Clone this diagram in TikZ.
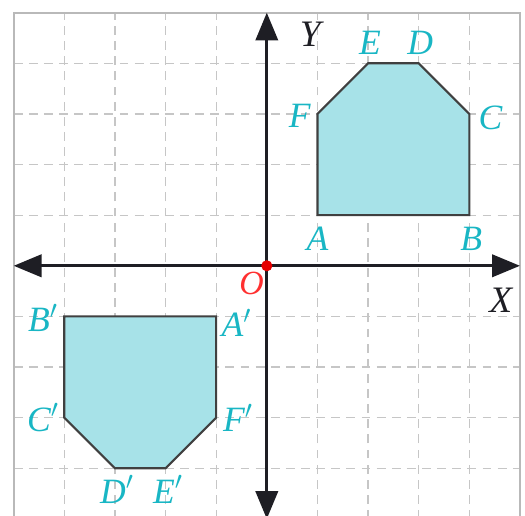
\documentclass[tikz,border=0pt]{standalone}
\usepackage{fontspec}
\setmainfont{Liberation Serif}
\usetikzlibrary{arrows.meta, positioning}
\definecolor{relleno}{HTML}{A7E2E8}
\definecolor{etiq}{HTML}{19B6C4}
\definecolor{ejes}{HTML}{1E1E24}

\begin{document}
\begin{tikzpicture}[
        rejilla/.style={gray!45, dashed, dash pattern=on 5pt off 3.5pt, line width=0.7pt},
        eje/.style={ejes, line width=1.7pt, {Triangle[length=5.5mm, width=4.4mm]}-{Triangle[length=5.5mm, width=4.4mm]}},
        figura/.style={draw=black!75, line width=1.2pt, fill=relleno},
        vert/.style={text=etiq, font=\fontsize{20}{22}\selectfont\itshape, inner sep=0pt}]
        \useasboundingbox (-5.27,-4.94) rectangle (5.1,5.25);
        % rejilla
        \foreach \k in {-4,...,4} {
            \draw[rejilla] (\k,-5) -- (\k,5);
            \draw[rejilla] (-5,\k) -- (5,\k);
        }
        \draw[gray!55, line width=1pt] (-5,-5) rectangle (5,5);
        % figura original y su imagen
        \coordinate (A) at (1,1);   \coordinate (B) at (4,1);   \coordinate (C) at (4,3);
        \coordinate (D) at (3,4);   \coordinate (E) at (2,4);   \coordinate (F) at (1,3);
        \coordinate (A') at (-1,-1); \coordinate (B') at (-4,-1); \coordinate (C') at (-4,-3);
        \coordinate (D') at (-3,-4); \coordinate (E') at (-2,-4); \coordinate (F') at (-1,-3);
        \draw[figura] (A) -- (B) -- (C) -- (D) -- (E) -- (F) -- cycle;
        \draw[figura] (A') -- (B') -- (C') -- (D') -- (E') -- (F') -- cycle;
        % ejes
        \coordinate (xi) at (-5,0); \coordinate (xd) at (5,0);
        \coordinate (ya) at (0,5);  \coordinate (yb) at (0,-5);
        \draw[eje] (xi) -- (xd);
        \draw[eje] (yb) -- (ya);
        \fill[red!90!black] (0,0) circle (0.11);
        \node[text=red!75!pink, font=\fontsize{19}{21}\selectfont\itshape, inner sep=0pt] (o) at (-0.3,-0.34) {O};
        \node[text=ejes, font=\fontsize{21}{24}\selectfont\itshape, inner sep=0pt] (ly) at (0.86,4.58) {Y};
        \node[text=ejes, font=\fontsize{21}{24}\selectfont\itshape, inner sep=0pt] (lx) at (4.62,-0.68) {X};
        % etiquetas
        \node[vert] (la) at (1.0,0.54) {A};
        \node[vert] (lb) at (4.04,0.54) {B};
        \node[vert] (lc) at (4.42,2.92) {C};
        \node[vert] (ld) at (3.03,4.4) {D};
        \node[vert] (le) at (2.04,4.4) {E};
        \node[vert] (lf) at (0.65,2.97) {F};
        \node[vert] (la') at (-0.6,-1.13) {A$'$};
        \node[vert] (lb') at (-4.42,-1.03) {B$'$};
        \node[vert] (lc') at (-4.42,-3.0) {C$'$};
        \node[vert] (lf') at (-0.57,-3.0) {F$'$};
        \node[vert] (ld') at (-2.96,-4.42) {D$'$};
        \node[vert] (le') at (-1.95,-4.42) {E$'$};
    \end{tikzpicture}
\end{document}
